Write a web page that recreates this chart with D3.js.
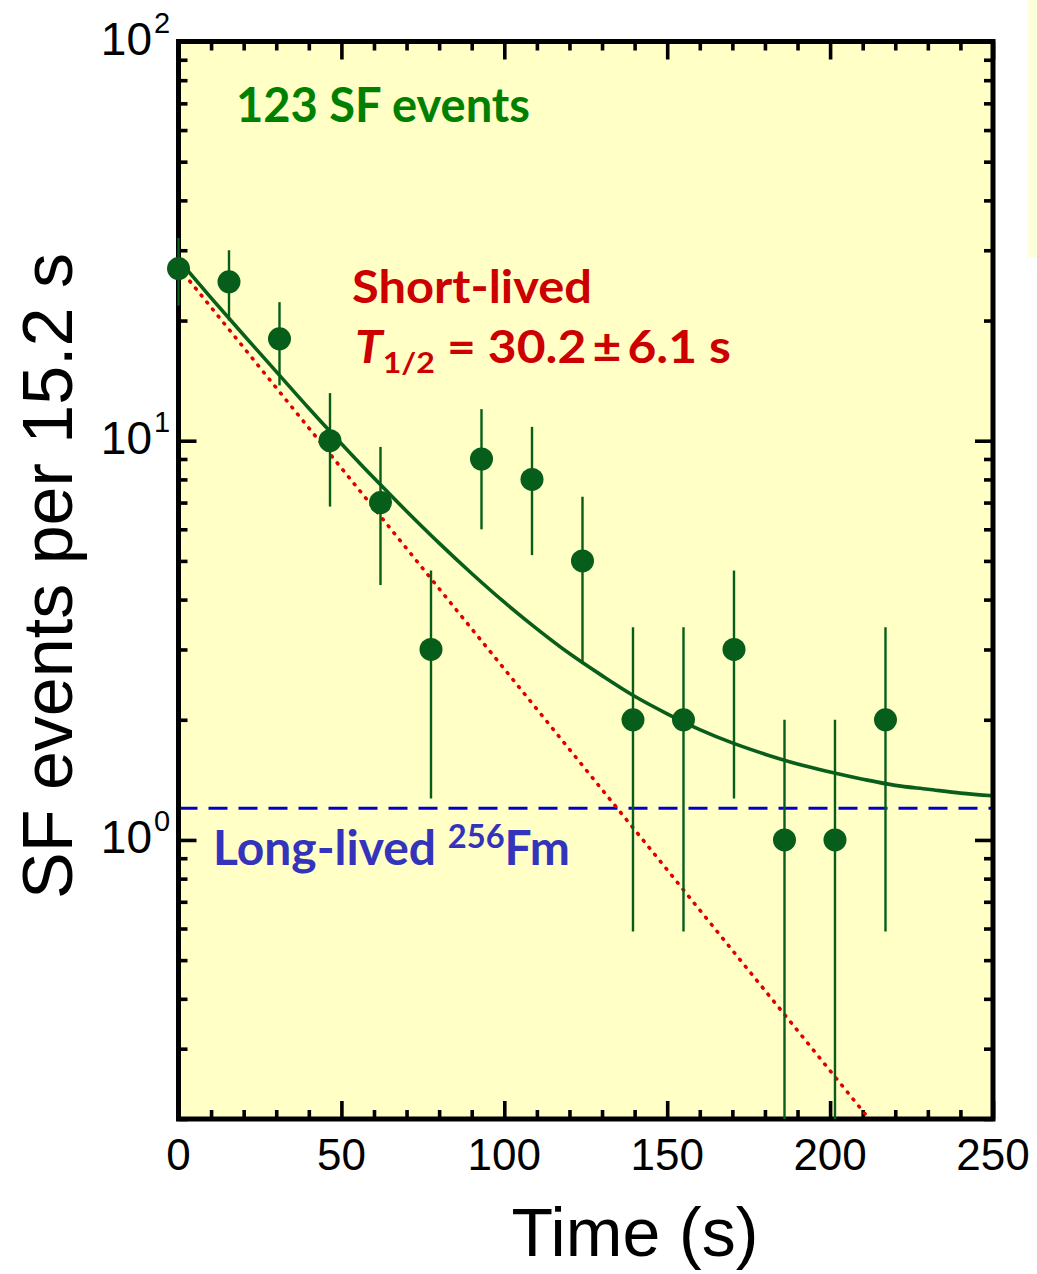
<!DOCTYPE html>
<html>
<head>
<meta charset="utf-8">
<script src="https://cdn.jsdelivr.net/npm/d3@7"></script>
<style>
  html, body { margin: 0; padding: 0; background: #ffffff; }
  svg { display: block; }
</style>
</head>
<body>
<svg id="chart" width="1037" height="1274"></svg>
<script>
// Decay curve: SF events per 15.2 s bin versus time
const times  = [0, 15.5, 31, 46.5, 62, 77.5, 93, 108.5, 124, 139.5, 155, 170.5, 186, 201.5, 217];
const counts = [27, 25, 18, 10, 7, 3, 9, 8, 5, 2, 2, 3, 1, 1, 2];
const errors = [5.2, 5.0, 4.24, 3.16, 2.65, 1.73, 3.0, 2.83, 2.24, 1.41, 1.41, 1.73, 1.0, 1.0, 1.41];

// Total fit (short-lived + long-lived component)
const fitTimes = [0, 10, 20, 30, 40, 50, 60, 70, 80, 90, 100, 110, 120, 130, 140, 150, 160, 170, 180, 190, 200, 210, 220, 230, 240, 250];
const fitTotal = [28.4, 22.8, 18.4, 14.9, 12.06, 9.83, 8.06, 6.66, 5.54, 4.65, 3.94, 3.38, 2.93, 2.58, 2.29, 2.07, 1.89, 1.75, 1.64, 1.55, 1.48, 1.42, 1.37, 1.34, 1.31, 1.29];

// Short-lived component alone
const shortTimes  = [0, 212];
const shortValues = [27.2, 0.2];

// Long-lived 256Fm level
const longTimes  = [0, 250];
const longValues = [1.2, 1.2];

const xTicksMajor = [0, 50, 100, 150, 200, 250];
const yTicksMajor = [1, 10, 100];
const yTickExp    = ["0", "1", "2"];

const svg = d3.select("#chart");
const plotLeft = 178.5, plotRight = 993, plotTop = 41.5, plotBottom = 1119;

const x = d3.scaleLinear().domain([0, 250]).range([plotLeft, plotRight]);
const y = d3.scaleLog().domain([0.2, 100]).range([plotBottom, plotTop]);

// faint panel at the right edge
svg.append("rect").attr("x", 1028).attr("y", 0).attr("width", 9).attr("height", 257)
  .attr("fill", "#fffedb");

// plot background
svg.append("rect").attr("x", plotLeft).attr("y", plotTop)
  .attr("width", plotRight - plotLeft).attr("height", plotBottom - plotTop)
  .attr("fill", "#ffffc6");

svg.append("clipPath").attr("id", "plotClip")
  .append("rect").attr("x", plotLeft).attr("y", plotTop)
  .attr("width", plotRight - plotLeft).attr("height", plotBottom - plotTop);

// ticks on all four sides, pointing inward
const xMinor = d3.range(0, 251, 10).filter(v => v % 50 !== 0);
const yMinor = y.ticks().filter(v => !yTicksMajor.includes(v));

function tickAxis(axisFn, scale, values, size, transform) {
  const g = svg.append("g").attr("transform", transform)
    .call(axisFn(scale).tickValues(values).tickSizeInner(size).tickSizeOuter(0).tickFormat(""));
  g.select(".domain").remove();
  g.selectAll(".tick line").attr("stroke", "#000").attr("stroke-width", 3.6);
  return g;
}
tickAxis(d3.axisBottom, x, xTicksMajor, -18, `translate(0,${plotBottom})`);
tickAxis(d3.axisBottom, x, xMinor, -9, `translate(0,${plotBottom})`);
tickAxis(d3.axisTop, x, xTicksMajor, -18, `translate(0,${plotTop})`);
tickAxis(d3.axisTop, x, xMinor, -9, `translate(0,${plotTop})`);
tickAxis(d3.axisLeft, y, yTicksMajor, -18, `translate(${plotLeft},0)`);
tickAxis(d3.axisLeft, y, yMinor, -9, `translate(${plotLeft},0)`);
tickAxis(d3.axisRight, y, yTicksMajor, -18, `translate(${plotRight},0)`);
tickAxis(d3.axisRight, y, yMinor, -9, `translate(${plotRight},0)`);

const plot = svg.append("g").attr("clip-path", "url(#plotClip)");

// long-lived level (dashed blue)
plot.append("path")
  .datum(longTimes.map((t, i) => [t, longValues[i]]))
  .attr("d", d3.line().x(d => x(d[0])).y(d => y(d[1])))
  .attr("fill", "none").attr("stroke", "#0000cc").attr("stroke-width", 3)
  .attr("stroke-dasharray", "19 11");

// short-lived component (dotted red)
plot.append("path")
  .datum(shortTimes.map((t, i) => [t, shortValues[i]]))
  .attr("d", d3.line().x(d => x(d[0])).y(d => y(d[1])))
  .attr("fill", "none").attr("stroke", "#e00000").attr("stroke-width", 3.6)
  .attr("stroke-linecap", "round").attr("stroke-dasharray", "1 8");

// total fit (solid green)
plot.append("path")
  .datum(fitTimes.map((t, i) => [t, fitTotal[i]]))
  .attr("d", d3.line().curve(d3.curveMonotoneX).x(d => x(d[0])).y(d => y(d[1])))
  .attr("fill", "none").attr("stroke", "#0a5e1c").attr("stroke-width", 3.6);

// frame
svg.append("rect").attr("x", plotLeft).attr("y", plotTop)
  .attr("width", plotRight - plotLeft).attr("height", plotBottom - plotTop)
  .attr("fill", "none").attr("stroke", "#000").attr("stroke-width", 5);

// error bars and data points
const yMin = y.domain()[0];
const pts = svg.append("g");
pts.selectAll("line.err").data(times).join("line").attr("class", "err")
  .attr("x1", t => x(t)).attr("x2", t => x(t))
  .attr("y1", (t, i) => y(Math.max(counts[i] - errors[i], yMin)))
  .attr("y2", (t, i) => y(counts[i] + errors[i]))
  .attr("stroke", "#075e1b").attr("stroke-width", 2.4);
pts.selectAll("circle").data(times).join("circle")
  .attr("cx", t => x(t)).attr("cy", (t, i) => y(counts[i])).attr("r", 11.5)
  .attr("fill", "#075e1b");

// tick labels
const tickFont = "'Liberation Sans', Arial, Helvetica, sans-serif";
svg.append("g").selectAll("text").data(xTicksMajor).join("text")
  .attr("x", d => x(d)).attr("y", 1170).attr("text-anchor", "middle")
  .attr("font-family", tickFont).attr("font-size", 44).attr("fill", "#000")
  .text(d => d);
const yl = svg.append("g");
yl.selectAll("text.base").data(yTicksMajor).join("text").attr("class", "base")
  .attr("x", 152).attr("y", d => y(d) + 13).attr("text-anchor", "end")
  .attr("font-family", tickFont).attr("font-size", 46).attr("fill", "#000")
  .text("10");
yl.selectAll("text.exp").data(yTicksMajor).join("text").attr("class", "exp")
  .attr("x", 154).attr("y", d => y(d) - 9)
  .attr("font-family", tickFont).attr("font-size", 29).attr("fill", "#000")
  .text((d, i) => yTickExp[i]);

// axis titles
svg.append("text").attr("x", 635).attr("y", 1256).attr("text-anchor", "middle")
  .attr("font-family", tickFont).attr("font-size", 68).attr("fill", "#000")
  .text("Time (s)");
svg.append("text").attr("transform", "translate(72,576) rotate(-90)")
  .attr("text-anchor", "middle")
  .attr("font-family", tickFont).attr("font-size", 70).attr("fill", "#000")
  .text("SF events per 15.2 s");

// annotations
const noteFont = "Lato, 'Open Sans', sans-serif";
svg.append("text").attr("x", 236).attr("y", 122)
  .attr("font-family", noteFont).attr("font-weight", "bold").attr("font-size", 47)
  .attr("fill", "#008000").attr("textLength", 294).attr("lengthAdjust", "spacingAndGlyphs")
  .text("123 SF events");

svg.append("text").attr("x", 352).attr("y", 303)
  .attr("font-family", noteFont).attr("font-weight", "bold").attr("font-size", 45)
  .attr("fill", "#cc0000").attr("textLength", 240).attr("lengthAdjust", "spacingAndGlyphs")
  .text("Short-lived");

const half = svg.append("text").attr("x", 355).attr("y", 363)
  .attr("font-family", noteFont).attr("font-weight", "bold").attr("font-size", 45)
  .attr("fill", "#cc0000").attr("textLength", 376).attr("lengthAdjust", "spacingAndGlyphs");
half.append("tspan").attr("font-style", "italic").text("T");
half.append("tspan").attr("font-size", 29).attr("dy", 10).text("1/2");
half.append("tspan").attr("dy", -10).text(" = 30.2\u2009\u00b1\u20096.1 s");

const fm = svg.append("text").attr("x", 213).attr("y", 865)
  .attr("font-family", noteFont).attr("font-weight", "bold").attr("font-size", 47)
  .attr("fill", "#3333bb").attr("textLength", 357).attr("lengthAdjust", "spacingAndGlyphs");
fm.append("tspan").text("Long-lived ");
fm.append("tspan").attr("font-size", 32).attr("dy", -17).text("256");
fm.append("tspan").attr("dy", 17).text("Fm");
</script>
</body>
</html>
